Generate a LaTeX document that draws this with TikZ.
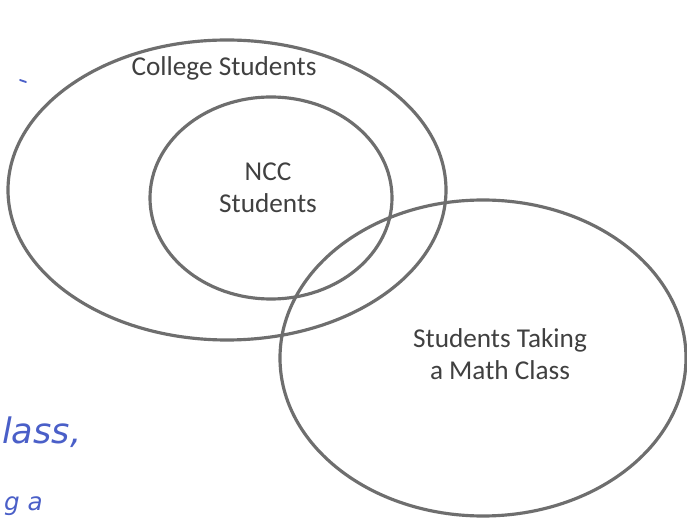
\documentclass[tikz,border=0pt]{standalone}
\usepackage{fontspec}
\setmainfont{Carlito}
\newfontfamily\handfont{DejaVu Sans}
\definecolor{pencil}{HTML}{6E6E6E}
\definecolor{ink}{HTML}{4A5FC8}
\begin{document}
\begin{tikzpicture}[x=0.02cm, y=-0.02cm, every node/.style={font=\fontsize{15.5}{18.5}\selectfont, text=black!75}]
  \tikzset{setline/.style={draw=pencil, line width=1.8pt}}
  \useasboundingbox (0,0) rectangle (687,520);
  \fill[white] (0,0) rectangle (687,520);
  % sets
  \draw[setline] (227,190) ellipse [x radius=219, y radius=150];
  \draw[setline] (271,198) ellipse [x radius=121, y radius=101];
  \draw[setline] (483,358) ellipse [x radius=203, y radius=158];
  % labels
  \node (college) at (224,68) {College Students};
  \node[align=center] (ncc) at (268,188) {NCC\\Students};
  \node[align=center] (math) at (500,354) {Students Taking\\a Math Class};
  % handwriting bits
  \draw[ink, line width=1pt, line cap=round] (20,80) -- (26,82);
  \node[ink, font=\handfont\itshape\fontsize{20}{22}\selectfont, anchor=west] (lass) at (-4,432) {lass,};
  \node[ink, font=\handfont\itshape\fontsize{14}{16}\selectfont, anchor=south west] (ga) at (-2,522) {g a};
\end{tikzpicture}
\end{document}
